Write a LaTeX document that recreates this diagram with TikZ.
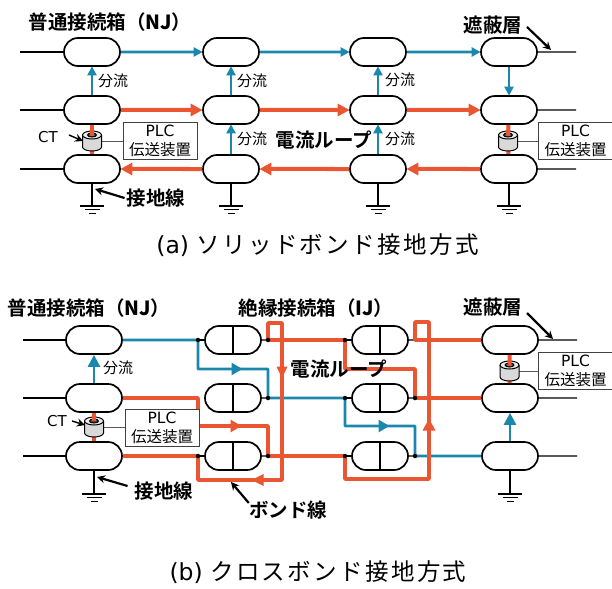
\documentclass[tikz,border=0pt]{standalone}
\usepackage{fontspec}
\setmainfont{DejaVu Sans}
\newfontfamily\cjk{Noto Sans CJK JP}
\newfontfamily\cjkb{Noto Sans CJK JP Bold}
\usetikzlibrary{arrows.meta,shapes.misc}
\definecolor{wireblue}{HTML}{1B87AD}
\definecolor{wirered}{HTML}{EA5532}
\tikzset{
	joint/.style={draw,line width=1.7pt,fill=white,rounded rectangle,minimum width=56pt,minimum height=28pt,inner sep=0pt},
	lead/.style={line width=1.4pt},
	bluewire/.style={draw=wireblue,line width=2.6pt,line join=round},
	redwire/.style={draw=wirered,line width=4pt,line join=round},
	blueflow/.style={bluewire,-{Triangle[length=9pt,width=9pt]},shorten >=-0.5pt},
	redflow/.style={redwire,-{Triangle[length=12pt,width=12pt]},shorten >=-0.5pt},
	dotnode/.style={circle,fill=black,inner sep=0pt,minimum size=4.5pt},
	pointer/.style={line width=2.2pt,-{Stealth[length=8pt,width=8pt]}},
	plcbox/.style={draw=black!75,line width=0.9pt,fill=white,minimum width=74pt,minimum height=37pt,inner sep=0pt,align=center,font=\fontsize{15.5}{19}\selectfont},
	tag/.style={font=\cjk\fontsize{15}{16}\selectfont,inner sep=0pt},
	head/.style={font=\cjkb\fontsize{19.5}{20}\selectfont,inner sep=0pt},
	capt/.style={font=\fontsize{23.5}{26}\selectfont,inner sep=0pt},
	gnd/.pic={
		\draw[line width=1.4pt] (-12,0) -- (12,0);
		\draw[line width=1.4pt] (-7.5,3.5) -- (7.5,3.5);
		\draw[line width=1.4pt] (-3.5,7.5) -- (3.5,7.5);
	},
	ctcore/.pic={
		\draw[line width=1pt,fill=black!15] (-9.5,-6) -- (-9.5,6) arc[x radius=9.5,y radius=4,start angle=180,end angle=0] -- (9.5,-6);
		\draw[line width=1pt,fill=black!8] (0,-6) ellipse[x radius=9.5,y radius=4];
		\draw[line width=1pt,fill=black!70] (0,-6) ellipse[x radius=4.5,y radius=2];
	},
}
\begin{document}
\begin{tikzpicture}[x=1pt,y=-1pt]
	\useasboundingbox (0,0) rectangle (612,588);
	% (a) solid bond
	\node[joint] (A11) at (92,52) {};
	\node[joint] (A12) at (231,52) {};
	\node[joint] (A13) at (378,52) {};
	\node[joint] (A14) at (509,52) {};
	\node[joint] (A21) at (92,110) {};
	\node[joint] (A22) at (231,110) {};
	\node[joint] (A23) at (378,110) {};
	\node[joint] (A24) at (509,110) {};
	\node[joint] (A31) at (92,169) {};
	\node[joint] (A32) at (231,169) {};
	\node[joint] (A33) at (378,169) {};
	\node[joint] (A34) at (509,169) {};
	
	\coordinate (AL1) at (20,52);
	\coordinate (AL2) at (20,110);
	\coordinate (AL3) at (20,169);
	\coordinate (AR1) at (576,52);
	\coordinate (AR2) at (576,110);
	\coordinate (AR3) at (576,169);
	\draw[lead] (AL1) -- (A11);
	\draw[lead] (AL2) -- (A21);
	\draw[lead] (AL3) -- (A31);
	\draw[lead] (A14) -- (AR1);
	\draw[lead] (A24) -- (AR2);
	\draw[lead] (A34) -- (AR3);
	
	\coordinate (AG1) at (92,206);
	\coordinate (AG2) at (231,206);
	\coordinate (AG3) at (378,206);
	\coordinate (AG4) at (509,206);
	\draw[lead] (A31) -- (AG1) pic {gnd};
	\draw[lead] (A32) -- (AG2) pic {gnd};
	\draw[lead] (A33) -- (AG3) pic {gnd};
	\draw[lead] (A34) -- (AG4) pic {gnd};
	
	\draw[blueflow] (A11) -- (A12);
	\draw[blueflow] (A12) -- (A13);
	\draw[blueflow] (A13) -- (A14);
	\draw[blueflow] (A21) -- (A11);
	\draw[blueflow] (A22) -- (A12);
	\draw[blueflow] (A23) -- (A13);
	\draw[blueflow] (A32) -- (A22);
	\draw[blueflow] (A33) -- (A23);
	\draw[blueflow] (A14) -- (A24);
	
	\draw[redflow] (A21) -- (A22);
	\draw[redflow] (A22) -- (A23);
	\draw[redflow] (A23) -- (A24);
	\draw[redflow] (A34) -- (A33);
	\draw[redflow] (A33) -- (A32);
	\draw[redflow] (A32) -- (A31);
	
	\node[plcbox] (APL) at (160,140.5) {PLC\\{\cjk 伝送装置}};
	\node[plcbox] (APR) at (575.5,140.5) {PLC\\{\cjk 伝送装置}};
	\coordinate (ACT1) at (92,141);
	\coordinate (ACT2) at (508,141);
	\draw[line width=0.9pt,draw=black!65] (ACT1) -- (ACT1 -| APL.west);
	\draw[line width=0.9pt,draw=black!65] (ACT2) -- (ACT2 -| APR.west);
	\draw[redwire] (A31) -- (92,140);
	\draw[redwire] (A34) -- (508,140);
	\pic at (ACT1) {ctcore};
	\pic at (ACT2) {ctcore};
	\draw[redwire] (A21) -- (92,136);
	\draw[redwire] (A24) -- (508,136);
	
	\node[head] (AnjText) at (110,22) {普通接続箱（{\bfseries NJ}）};
	\node[head] (AshText) at (493,25) {遮蔽層};
	\node[head] (AloopText) at (324,140) {電流ループ};
	\node[head] (AgText) at (156,198) {接地線};
	\node[tag] (AdivA) at (113,81) {分流};
	\node[tag] (AdivB) at (252,81) {分流};
	\node[tag] (AdivC) at (400,80) {分流};
	\node[tag] (AdivD) at (252,139) {分流};
	\node[tag] (AdivE) at (400,139) {分流};
	\node[inner sep=0pt,font=\fontsize{15}{16}\selectfont] (ActText) at (48,137) {CT};
	
	\coordinate (AshTip) at (551,50);
	\coordinate (AgTip) at (95,189);
	\coordinate (ActTip) at (83,141);
	\draw[pointer] (527,27) -- (AshTip);
	\draw[pointer] (AgText.west) ++(-2,0) -- (AgTip);
	\draw[pointer,line width=1.4pt] (ActText.east) ++(11,-2) -- (ActTip);
	
	\node[capt] (Acap) at (317.5,245) {(a) {\cjk\addfontfeature{LetterSpace=10} ソリッドボンド接地方式}};
	
	% (b) cross bond
	\node[joint] (B11) at (94,340) {};
	\node[joint] (B12) at (233,340) {};
	\node[joint] (B13) at (380,340) {};
	\node[joint] (B14) at (510,340) {};
	\node[joint] (B21) at (94,398) {};
	\node[joint] (B22) at (233,398) {};
	\node[joint] (B23) at (380,398) {};
	\node[joint] (B24) at (510,398) {};
	\node[joint] (B31) at (94,456) {};
	\node[joint] (B32) at (233,456) {};
	\node[joint] (B33) at (380,456) {};
	\node[joint] (B34) at (510,456) {};
	\draw[line width=1.4pt] (B12.north) -- (B12.south);
	\draw[line width=1.4pt] (B13.north) -- (B13.south);
	\draw[line width=1.4pt] (B22.north) -- (B22.south);
	\draw[line width=1.4pt] (B23.north) -- (B23.south);
	\draw[line width=1.4pt] (B32.north) -- (B32.south);
	\draw[line width=1.4pt] (B33.north) -- (B33.south);
	
	\coordinate (BL1) at (23,340);
	\coordinate (BL2) at (23,398);
	\coordinate (BL3) at (23,456);
	\coordinate (BR1) at (577,340);
	\coordinate (BR2) at (577,398);
	\coordinate (BR3) at (577,456);
	\draw[lead] (BL1) -- (B11);
	\draw[lead] (BL2) -- (B21);
	\draw[lead] (BL3) -- (B31);
	\draw[lead] (B14) -- (BR1);
	\draw[lead] (B24) -- (BR2);
	\draw[lead] (B34) -- (BR3);
	\coordinate (BG1) at (94,494);
	\coordinate (BG4) at (510,494);
	\draw[lead] (B31) -- (BG1) pic {gnd};
	\draw[lead] (B34) -- (BG4) pic {gnd};
	
	\coordinate (D1) at (198,340);
	\coordinate (D2) at (198,398);
	\coordinate (D3) at (198,456);
	\coordinate (D4) at (268,340);
	\coordinate (D5) at (268,398);
	\coordinate (D6) at (268,456);
	\coordinate (D7) at (345,340);
	\coordinate (D8) at (345,398);
	\coordinate (D9) at (345,456);
	\coordinate (D10) at (415,340);
	\coordinate (D11) at (415,398);
	\coordinate (D12) at (415,456);
	\draw[lead] (D1) -- (B12);
	\draw[lead] (D3) -- (B32);
	\draw[lead] (B12) -- (D4);
	\draw[lead] (B22) -- (D5);
	\draw[lead] (B32) -- (D6);
	\draw[lead] (D7) -- (B13);
	\draw[lead] (D8) -- (B23);
	\draw[lead] (D9) -- (B33);
	\draw[lead] (B13) -- (D10);
	\draw[lead] (B23) -- (D11);
	\draw[lead] (B33) -- (D12);
	
	% shield currents
	\draw[bluewire] (B11) -- (D1) -- (198,369) -- (268,369) -- (D5) -- (D8) -- (345,426) -- (415,426) -- (D12) -- (B34);
	\coordinate (TB1) at (226,369);
	\coordinate (TB2) at (242,369);
	\coordinate (TB3) at (373,426);
	\coordinate (TB4) at (389,426);
	\draw[blueflow,-{Triangle[length=11pt,width=12pt]}] (TB1) -- (TB2);
	\draw[blueflow,-{Triangle[length=11pt,width=12pt]}] (TB3) -- (TB4);
	\draw[bluewire,-{Triangle[length=12pt,width=12pt]}] (B21) -- (B11);
	\draw[bluewire,-{Triangle[length=12pt,width=12pt]}] (B34) -- (B24);
	
	\draw[redwire,line width=3.6pt] (B21) -- (D2) -- (198,426) -- (268,426) -- (D6) -- (D9) -- (345,479) -- (429,479) -- (429,322) -- (415,322) -- (D10) -- (B14);
	\draw[redwire,line width=3.6pt] (B31) -- (D3) -- (198,480) -- (282,480) -- (282,323) -- (268,323) -- (D4) -- (D7) -- (345,369) -- (415,369) -- (D11) -- (B24);
	\coordinate (TR1) at (282,361);
	\coordinate (TR2) at (282,378);
	\coordinate (TR3) at (227,426);
	\coordinate (TR4) at (241,426);
	\coordinate (TR5) at (267,480);
	\coordinate (TR6) at (252,480);
	\coordinate (TR7) at (429,433);
	\coordinate (TR8) at (429,419);
	\draw[redflow,-{Triangle[length=12pt,width=10pt]}] (TR1) -- (TR2);
	\draw[redflow,-{Triangle[length=11pt,width=12pt]}] (TR3) -- (TR4);
	\draw[redflow,-{Triangle[length=12pt,width=11pt]}] (TR5) -- (TR6);
	\draw[redflow,-{Triangle[length=12pt,width=12pt]}] (TR7) -- (TR8);
	
	\node[dotnode] (JD1) at (D1) {};
	\node[dotnode] (JD3) at (D3) {};
	\node[dotnode] (JD4) at (D4) {};
	\node[dotnode] (JD5) at (D5) {};
	\node[dotnode] (JD6) at (D6) {};
	\node[dotnode] (JD7) at (D7) {};
	\node[dotnode] (JD8) at (D8) {};
	\node[dotnode] (JD9) at (D9) {};
	\node[dotnode] (JD11) at (D11) {};
	\node[dotnode] (JD12) at (D12) {};
	
	\node[plcbox] (BPL) at (162,428) {PLC\\{\cjk 伝送装置}};
	\node[plcbox] (BPR) at (575.5,370.5) {PLC\\{\cjk 伝送装置}};
	\coordinate (BCT1) at (94,427);
	\coordinate (BCT2) at (509.5,371);
	\draw[line width=0.9pt,draw=black!65] (BCT1) -- (BCT1 -| BPL.west);
	\draw[line width=0.9pt,draw=black!65] (BCT2) -- (BCT2 -| BPR.west);
	\draw[redwire] (B31) -- (94,426);
	\draw[redwire] (B24) -- (509.5,370);
	\pic at (BCT1) {ctcore};
	\pic at (BCT2) {ctcore};
	\draw[redwire] (B21) -- (94,421);
	\draw[redwire] (B14) -- (509.5,366);
	
	\node[head] (BnjText) at (89,308) {普通接続箱（{\bfseries NJ}）};
	\node[head] (BijText) at (316,308) {絶縁接続箱（{\bfseries IJ}）};
	\node[head] (BshText) at (493,307) {遮蔽層};
	\node[head] (BloopText) at (339,369) {電流ループ};
	\node[head] (BgText) at (164,491) {接地線};
	\node[head] (BbondText) at (288,510) {ボンド線};
	\node[tag] (BdivA) at (118,368) {分流};
	\node[inner sep=0pt,font=\fontsize{15}{16}\selectfont] (BctText) at (57,421) {CT};
	
	\coordinate (BshTip) at (553,339);
	\coordinate (BgTip) at (97,477);
	\coordinate (BbondTip) at (231,482);
	\coordinate (BctTip) at (85,425);
	\draw[pointer] (527,313) -- (BshTip);
	\draw[pointer] (BgText.west) ++(-7,-5) -- (BgTip);
	\draw[pointer] (BbondText.west) ++(0,-7) -- (BbondTip);
	\draw[pointer,line width=1.4pt] (BctText.east) ++(5,0) -- (BctTip);
	
	\node[capt] (Bcap) at (318,572) {(b) {\cjk\addfontfeature{LetterSpace=10} クロスボンド接地方式}};
\end{tikzpicture}
\end{document}
